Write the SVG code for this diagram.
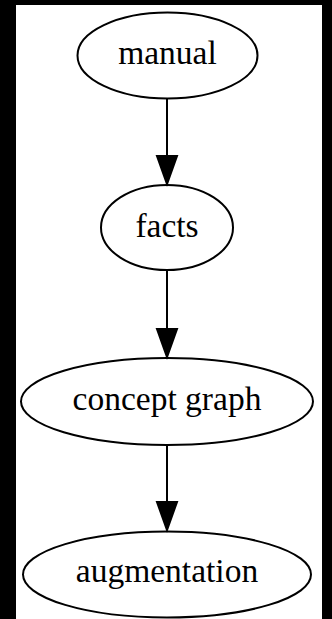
<svg xmlns="http://www.w3.org/2000/svg" width="332" height="619" viewBox="0 0 332 619">
<style>
.n ellipse{fill:none;stroke:#000;stroke-width:2}
.n text{font-family:"Liberation Serif","Times New Roman",serif;font-size:33.5px;fill:#000;text-anchor:middle}
.e line{stroke:#000;stroke-width:2}
.e polygon{fill:#000;stroke:#000;stroke-width:2}
</style>
<rect x="0" y="0" width="332" height="619" fill="#000"/>
<rect x="16" y="5" width="306" height="614" fill="#fff"/>
<g id="manual" class="n"><ellipse cx="167.5" cy="55.5" rx="90" ry="43"/><text x="167.5" y="64">manual</text></g>
<g id="facts" class="n"><ellipse cx="167" cy="227.5" rx="66" ry="42.5"/><text x="167" y="237">facts</text></g>
<g id="concept_graph" class="n"><ellipse cx="167" cy="401.5" rx="146" ry="43.5"/><text x="167" y="410">concept graph</text></g>
<g id="augmentation" class="n"><ellipse cx="167" cy="574.5" rx="144" ry="43"/><text x="167" y="582">augmentation</text></g>
<g id="edges" class="e">
<line x1="167" y1="99" x2="167" y2="156"/><polygon points="157,156 177,156 167,184"/>
<line x1="167" y1="270" x2="167" y2="329"/><polygon points="157,329 177,329 167,357"/>
<line x1="167" y1="445" x2="167" y2="502"/><polygon points="157,502 177,502 167,530"/>
</g>
</svg>
